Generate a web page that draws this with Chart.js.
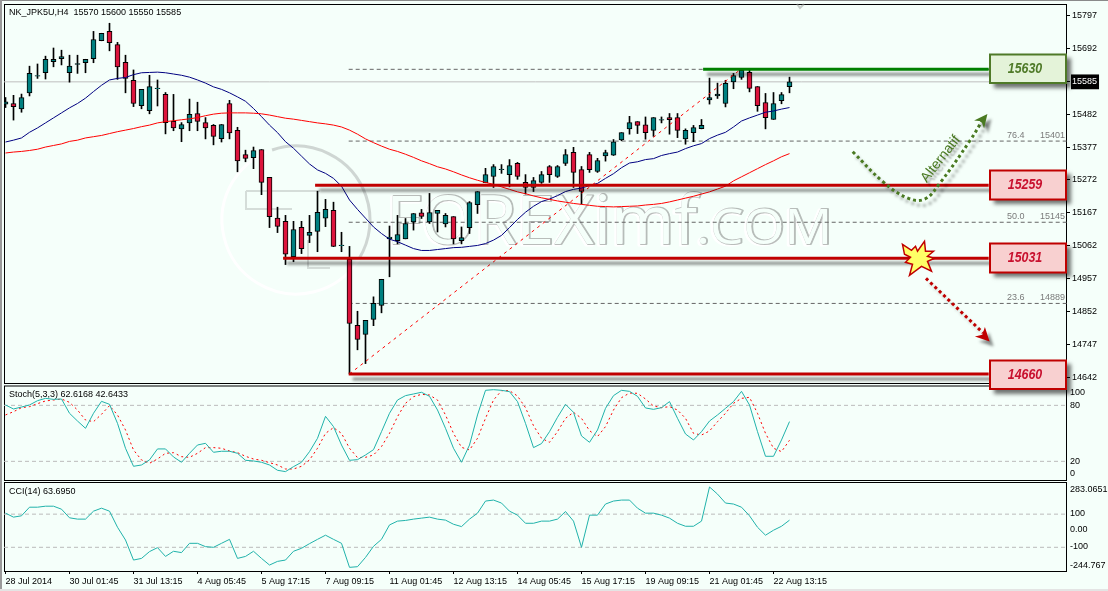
<!DOCTYPE html>
<html><head><meta charset="utf-8">
<script src="https://cdn.jsdelivr.net/npm/chart.js@4/dist/chart.umd.min.js"></script>
<style>
html,body{margin:0;padding:0;background:#F5FFFA;}
#wrap{position:relative;width:1108px;height:591px;overflow:hidden;background:#F5FFFA;}
canvas{position:absolute;left:0;}
#edgeT{position:absolute;left:0;top:0;width:1108px;height:1px;background:#8a8a8a;z-index:5}
#edgeL{position:absolute;left:0;top:0;width:2px;height:591px;background:#9a9a9a;z-index:5}
#edgeB{position:absolute;left:0;top:589px;width:1108px;height:2px;background:#e4e4e4;z-index:5}
</style></head><body>
<div id="wrap">
<div id="edgeT"></div><div id="edgeL"></div><div id="edgeB"></div>
<canvas id="cci" width="1108" height="113" style="top:478px;z-index:1"></canvas>
<canvas id="stoch" width="1108" height="105" style="top:380px;z-index:1"></canvas>
<canvas id="main" width="1108" height="400" style="top:0;z-index:2"></canvas>
</div>
<script>
const opens=[15514,15516,15499,15550,15603,15614,15649,15659,15614,15641,15646,15659,15716,15746,15704,15647,15590,15509,15493,15563,15545,15459,15435,15454,15484,15455,15446,15404,15516,15430,15353,15343,15369,15280,15150,15140,15027,15121,15095,15108,15150,15175,15062,15019,14808,14779,14827,14872,15084,15078,15084,15138,15167,15138,15165,15132,15155,15078,15120,15193,15263,15283,15305,15289,15325,15264,15248,15264,15315,15283,15325,15360,15305,15353,15299,15349,15351,15400,15435,15458,15448,15430,15463,15471,15471,15403,15423,15436,15527,15540,15516,15585,15599,15615,15570,15519,15465,15525,15570];
const highs=[15535,15542,15546,15635,15642,15667,15693,15686,15670,15670,15657,15746,15740,15772,15711,15670,15623,15561,15606,15591,15551,15545,15455,15530,15520,15471,15449,15449,15526,15440,15367,15377,15369,15280,15185,15159,15140,15140,15159,15236,15210,15201,15105,15060,14853,14824,14899,14955,15125,15159,15149,15165,15178,15229,15175,15165,15155,15122,15203,15235,15309,15321,15321,15337,15328,15289,15280,15299,15318,15318,15369,15376,15315,15360,15341,15367,15401,15423,15475,15458,15473,15471,15473,15484,15484,15435,15446,15465,15597,15581,15590,15612,15627,15622,15570,15548,15551,15551,15600];
const lows=[15503,15463,15488,15540,15596,15594,15633,15639,15584,15612,15614,15646,15716,15684,15593,15550,15506,15499,15483,15508,15419,15429,15394,15429,15429,15403,15384,15393,15403,15298,15330,15308,15225,15120,15104,15002,15011,15037,15072,15043,15123,15059,15043,14653,14730,14686,14807,14848,14963,15068,15084,15112,15149,15133,15106,15122,15068,15068,15101,15165,15263,15248,15293,15250,15274,15227,15235,15261,15264,15280,15318,15248,15195,15296,15296,15332,15350,15397,15418,15420,15402,15411,15454,15418,15407,15386,15394,15435,15514,15532,15505,15563,15593,15553,15491,15435,15465,15515,15550];
const closes=[15521,15506,15535,15612,15605,15657,15657,15666,15635,15643,15657,15720,15740,15710,15633,15596,15516,15561,15570,15565,15455,15438,15449,15481,15459,15438,15411,15449,15422,15333,15341,15366,15264,15155,15124,15035,15114,15053,15105,15169,15178,15060,15064,14814,14763,14824,14878,14955,15090,15098,15133,15165,15156,15168,15175,15159,15084,15088,15200,15235,15289,15315,15307,15318,15283,15248,15270,15289,15289,15315,15353,15296,15235,15305,15334,15359,15394,15423,15455,15446,15423,15471,15465,15464,15430,15430,15439,15446,15535,15546,15580,15605,15622,15564,15509,15471,15516,15544,15585];
const maBlue=[15393,15399,15406,15424,15438,15454,15470,15486,15502,15516,15533,15554,15574,15591,15596,15599,15608,15614,15615,15616,15614,15610,15606,15600,15591,15581,15569,15561,15550,15537,15523,15500,15474,15447,15423,15394,15373,15348,15323,15304,15293,15277,15252,15208,15178,15150,15122,15101,15083,15075,15064,15053,15047,15047,15050,15053,15056,15057,15060,15063,15069,15080,15095,15120,15146,15169,15188,15203,15211,15222,15235,15242,15246,15254,15261,15277,15292,15311,15326,15330,15337,15340,15350,15356,15361,15372,15381,15388,15404,15415,15424,15441,15460,15470,15479,15488,15492,15498,15503];
const maRed=[15358,15361,15363,15366,15370,15377,15382,15387,15395,15399,15406,15410,15414,15420,15426,15431,15436,15442,15447,15454,15458,15461,15464,15467,15471,15477,15482,15485,15486,15486,15486,15485,15483,15479,15474,15469,15466,15462,15458,15454,15451,15447,15441,15431,15418,15403,15391,15380,15370,15363,15354,15344,15333,15324,15314,15307,15298,15288,15279,15271,15264,15258,15250,15242,15234,15228,15221,15215,15210,15205,15201,15197,15194,15191,15188,15187,15186,15187,15188,15189,15192,15194,15197,15202,15208,15214,15220,15227,15234,15243,15252,15269,15282,15295,15308,15321,15333,15346,15356];
const stochMain=[80.4,76.1,78.2,80.4,85,87.5,86.4,86.8,71.5,63.2,55.4,71.5,84.3,81.1,60.7,34,14.7,16.1,21.5,33.3,33.3,24.7,19,28.6,37.5,39.3,29.7,30.8,30.8,28.6,21.1,20.4,19,16.1,10.4,9,14.3,19,30.4,44.7,68.2,57.2,37.5,21.1,21.8,26.8,32.5,51.8,71.5,85.7,90.4,92.2,94,89.7,75,55.4,34,19,37.5,69.7,96.1,96.8,96.1,94.7,84,60.7,34.7,39,51.8,67.2,81.1,72.5,47.2,40.4,53.6,76.8,90.4,96.1,95,89.7,77.2,75.7,77.5,84,66.1,49.3,42.9,51.8,63.2,69.7,76.8,84,95,80.4,51.8,25.4,25.4,42.9,62.6];
const stochSignal=[69.7,73.2,77.5,78.6,81.8,84.7,85.7,86.8,83.2,75,64.3,62.5,70.4,79.7,69.7,53.6,32.2,21.5,17.9,22.5,28.6,29.3,25,24.3,28.6,34.7,34.7,34,31.1,29.3,25.4,22.5,21.1,18.6,16.1,11.8,11.8,14.7,21.5,34,50,56.1,50,34,24,24.3,26.8,35.8,50,67.9,82.2,89.3,91.8,91.1,85.7,69.7,50,35,32.2,44.7,66.1,85.7,95.7,95.7,90,77.5,58.2,44.7,40.4,51.8,66.1,72.5,66.1,52.9,46.5,57.2,75,88.2,93.2,92.9,86.8,79.3,77.5,78.6,75,66.1,50,48.2,52.5,62.5,71.5,82.2,87.5,88.6,71.5,50,34,30.4,42.6];
const cciValues=[106,82,90,142,142,148,148,130,78,70,70,118,136,118,21,-56,-177,-167,-126,-102,-155,-124,-132,-76,-76,-96,-100,-76,-52,-167,-155,-124,-167,-207,-185,-177,-124,-106,-78,-52,-27,-52,-76,-221,-217,-161,-94,-52,35,58,62,70,76,82,70,64,39,25,70,106,179,185,167,118,94,45,45,58,58,70,116,58,-100,94,94,161,179,185,185,136,106,106,94,76,45,27,27,58,264,221,167,161,142,90,21,-27,3,27,63.7];
const priceTicks=[15797,15692,15585,15482,15377,15272,15167,15062,14957,14852,14747,14642];
const stochTickPos=[94,80,20,6.8];
const stochTickLabels=['100','80','20','0'];
const cciTickPos=[249,106,9,-94,-207];
const cciTickLabels=['283.0651','100','0.00','-100','-244.767'];
const timeLabels=['28 Jul 2014','30 Jul 01:45','31 Jul 13:15','4 Aug 05:45','5 Aug 17:15','7 Aug 09:15','11 Aug 01:45','12 Aug 13:15','14 Aug 05:45','15 Aug 17:15','19 Aug 09:15','21 Aug 01:45','22 Aug 13:15'];
const levelLabels=['15630','15259','15031','14660'];
const levelValues=[15625,15255,15022,14653];
const levelStarts=[87.2,38.7,34.7,42.9];
const fibPercents=['76.4','50.0','23.6'];
const fibNames=['15401','15145','14889'];
const fibValues=[15396,15137,14878];
const fibTop=15625;
const alternatifPath=[[105.9,15362],[109.7,15266],[112.8,15214],[114.9,15211],[116.8,15262],[120.6,15399],[122.3,15470]];
const breakdownPath=[[115.06,14958],[122.2,14784]];
const bidPrice=15585;

const FF="'Liberation Sans'";
const BG='#F5FFFA';
Chart.defaults.font.family=FF;Chart.defaults.font.size=9;Chart.defaults.color='#000';
const XMIN=-0.1875,XMAX=132.6875,LEVEL_END=122.9;
const idx=opens.map((_,i)=>i);
const series=a=>a.map((v,i)=>({x:i,y:v}));
const hline=(y,a,b)=>[{x:a,y},{x:b,y}];
const lineDs=(data,color,extra)=>Object.assign({type:'line',data,borderColor:color,borderWidth:1,pointRadius:0,tension:0,fill:false},extra||{});
const baseOpts=(pad)=>({responsive:false,animation:false,devicePixelRatio:1,events:[],layout:{padding:pad},
 plugins:{legend:{display:false},tooltip:{enabled:false}}});
const noPad=s=>{s.paddingTop=0;s.paddingBottom=0;s.paddingLeft=0;s.paddingRight=0;};
const xScale=(show)=>({type:'linear',min:XMIN,max:XMAX,offset:false,display:show,
 grid:{display:show,drawOnChartArea:false,tickLength:3,tickColor:'#000',offset:false},border:{display:false},
 afterBuildTicks:s=>{s.ticks=timeLabels.map((_,i)=>({value:i*8}));},
 afterFit:s=>{noPad(s);if(show)s.height=20;},
 ticks:{autoSkip:false,maxRotation:0,align:'start',padding:2,callback:v=>timeLabels[v/8]}});

function frame(chart,top,bottom){const c=chart.ctx;c.save();c.strokeStyle='#000';c.lineWidth=1;c.strokeRect(4.5,top+.5,1062,bottom-top);c.restore();}
function caption(chart,txt,y){const c=chart.ctx;c.save();c.font='9px '+FF;c.fillStyle='#000';c.textBaseline='middle';c.fillText(txt,9,y);c.restore();}

const shadowPlugin={id:'shadow',
 beforeDatasetDraw(ch,a){const d=ch.data.datasets[a.index];if(d.shadow){const c=ch.ctx;c.save();c.shadowColor=d.shadow;c.shadowOffsetX=4;c.shadowOffsetY=5;c.shadowBlur=3;}},
 afterDatasetDraw(ch,a){const d=ch.data.datasets[a.index];if(d.shadow)ch.ctx.restore();}};

function watermark(c){
 c.save();
 c.lineWidth=3;
 c.strokeStyle='rgba(175,180,178,.55)';c.beginPath();c.arc(296,220,74,-1.9,0.55);c.stroke();
 c.strokeStyle='#ffffff';c.beginPath();c.arc(296,220,74,0.55,4.3);c.stroke();
 c.lineWidth=2;c.strokeStyle='rgba(165,170,167,.4)';c.beginPath();
 c.moveTo(246,191);c.lineTo(320,191);c.moveTo(246,191);c.lineTo(246,209);c.lineTo(292,209);c.moveTo(308,240);c.lineTo(308,268);c.lineTo(330,268);c.stroke();
 const draw=(t,x,w,size)=>{c.save();c.font=size+"px 'Open Sans'";const k=w/c.measureText(t).width;c.translate(x,244);c.scale(k,1);c.lineJoin='round';
  c.lineWidth=3;c.strokeStyle='#ffffff';c.strokeText(t,-1,1);
  c.lineWidth=2;c.strokeStyle='rgba(140,145,142,.6)';c.strokeText(t,1,0);
  c.fillStyle=BG;c.fillText(t,0,0);c.restore();};
 draw('FOREXimf',386,311,68);draw('.COM',696,136,50);
 c.strokeStyle='rgba(150,155,152,.5)';c.lineWidth=2;c.beginPath();c.moveTo(797,4);c.lineTo(800,8);c.lineTo(804,4);c.stroke();
 c.restore();
}
function levelBox(c,t,y1,y2,fill,border,color){
 c.save();c.shadowColor='rgba(0,0,0,.55)';c.shadowOffsetX=4;c.shadowOffsetY=4;c.shadowBlur=4;
 c.fillStyle=fill;c.fillRect(989.5,y1,77,y2-y1);c.restore();
 c.save();c.strokeStyle=border;c.lineWidth=2;c.strokeRect(990,y1+.5,76,y2-y1-1);
 c.translate(1025,(y1+y2)/2);c.scale(.8,1);c.font="italic bold 15.5px "+FF;c.fillStyle=color;c.textAlign='center';c.textBaseline='middle';c.fillText(t,0,0);c.restore();
}
function head(c,x,y,pts,col){c.save();c.shadowColor='rgba(0,0,0,.45)';c.shadowOffsetX=4;c.shadowOffsetY=5;c.shadowBlur=3;
 c.fillStyle=col;c.beginPath();c.moveTo(x,y);pts.forEach(p=>c.lineTo(x+p[0],y+p[1]));c.closePath();c.fill();c.restore();}
const burstShape=[[-15,-14],[-6,-8],[-2,-12],[0,-7],[7,-17],[8,-7],[16,-7],[10,-2],[17,0],[10,3],[14,13],[4,8],[-8,17],[-5,6],[-12,4],[-7,-1],[-13,-4]];

const overlay={id:'overlay',
 beforeDatasetsDraw(ch){watermark(ch.ctx);},
 afterDatasetsDraw(ch){const c=ch.ctx,xs=ch.scales.x,ys=ch.scales.y;
  c.save();c.font='9px '+FF;c.fillStyle='#7a7a7a';c.textBaseline='middle';
  fibValues.forEach((v,i)=>{const y=ys.getPixelForValue(v)-5.5;c.fillText(fibPercents[i],1007,y);c.fillText(fibNames[i],1040,y);});c.restore();
  const ga=alternatifPath[alternatifPath.length-1];
  head(c,xs.getPixelForValue(ga[0])+3.5,ys.getPixelForValue(ga[1])-4,[[-13.3,6.7],[-6,7.3],[-3.3,14.7]],'#4A7A22');
  const ra=breakdownPath[1];
  head(c,xs.getPixelForValue(ra[0])+6.5,ys.getPixelForValue(ra[1])+8.5,[[-14.7,-5],[-7.3,-6.7],[-4.7,-14.3]],'#C00000');
  c.save();c.shadowColor='rgba(0,0,0,.4)';c.shadowOffsetX=3;c.shadowOffsetY=3;c.shadowBlur=2;c.translate(940.7,159);c.rotate(-52*Math.PI/180);
  c.font='14px '+FF;c.fillStyle='#4A7A22';c.textAlign='center';c.textBaseline='middle';c.fillText('Alternatif',0,0);c.restore();
  const bx=xs.getPixelForValue(114),by=ys.getPixelForValue(levelValues[2]);
  c.save();c.fillStyle='#FFFF66';c.strokeStyle='#C00000';c.lineWidth=1.5;c.beginPath();burstShape.forEach((p,i)=>i?c.lineTo(bx+p[0],by+p[1]):c.moveTo(bx+p[0],by+p[1]));c.closePath();c.fill();c.stroke();c.restore();
  levelBox(c,levelLabels[0],54,83.5,'#E4F3D9','#4F7A28','#4F7A28');
  levelBox(c,levelLabels[1],170,200,'#F8D0D0','#C00000','#C8102E');
  levelBox(c,levelLabels[2],243,273,'#F8D0D0','#C00000','#C8102E');
  levelBox(c,levelLabels[3],360,389.5,'#F8D0D0','#C00000','#C8102E');
 }
};
const mainFrame={id:'mainFrame',beforeDatasetsDraw(ch){frame(ch,4,383);caption(ch,'NK_JPK5U,H4  15570 15600 15550 15585',12.5);}};

new Chart(document.getElementById('main'),{type:'bar',
 data:{datasets:[
  {type:'bar',order:20,grouped:false,barThickness:1,backgroundColor:'#000',borderWidth:0,data:idx.map(i=>({x:i,y:[lows[i],highs[i]]}))},
  {type:'bar',order:19,grouped:false,barThickness:5,borderColor:'#000',borderWidth:1,borderSkipped:false,
   backgroundColor:idx.map(i=>closes[i]>=opens[i]?'#008080':'#DC143C'),data:idx.map(i=>({x:i,y:[opens[i],closes[i]]}))},
  lineDs(hline(bidPrice,XMIN,XMAX),'#BEBEBE',{order:25}),
  lineDs(hline(fibTop,42.9,XMAX),'#666',{borderDash:[4,3],order:24}),
  lineDs(hline(fibValues[0],42.9,XMAX),'#666',{borderDash:[4,3],order:24}),
  lineDs(hline(fibValues[1],42.9,XMAX),'#666',{borderDash:[4,3],order:24}),
  lineDs(hline(fibValues[2],42.9,XMAX),'#666',{borderDash:[4,3],order:24}),
  lineDs([{x:43,y:14653},{x:92,y:15627}],'#FF0000',{borderDash:[3,4],order:10}),
  lineDs(series(maBlue),'#000080',{order:9}),
  lineDs(series(maRed),'#FF0000',{order:8}),
  lineDs(hline(levelValues[0],levelStarts[0],LEVEL_END),'#008000',{borderWidth:3,order:5,shadow:'rgba(0,0,0,.45)'}),
  lineDs(hline(levelValues[1],levelStarts[1],LEVEL_END),'#C00000',{borderWidth:3,order:5,shadow:'rgba(0,0,0,.45)'}),
  lineDs(hline(levelValues[2],levelStarts[2],LEVEL_END),'#C00000',{borderWidth:3,order:5,shadow:'rgba(0,0,0,.45)'}),
  lineDs(hline(levelValues[3],levelStarts[3],LEVEL_END),'#C00000',{borderWidth:3,order:5,shadow:'rgba(0,0,0,.45)'}),
  lineDs(alternatifPath.map(p=>({x:p[0],y:p[1]})),'#4A7A22',{borderWidth:3,borderDash:[3,3],tension:.4,order:3,shadow:'rgba(0,0,0,.35)'}),
  lineDs(breakdownPath.map(p=>({x:p[0],y:p[1]})),'#C00000',{borderWidth:3,borderDash:[3,3],order:3,shadow:'rgba(0,0,0,.2)'})
 ]},
 options:Object.assign(baseOpts({left:4,top:4,bottom:16,right:0}),{scales:{
  x:xScale(false),
  y:{position:'right',min:14620.9,max:15833.4,
   grid:{drawOnChartArea:false,tickLength:3,tickColor:'#000'},border:{display:false},
   afterFit:s=>{noPad(s);s.width=41;},
   afterBuildTicks:s=>{s.ticks=priceTicks.map(v=>({value:v}));},
   ticks:{autoSkip:false,padding:2,callback:v=>String(v),
    color:c=>c.tick&&c.tick.value===bidPrice?'#fff':'#000',
    showLabelBackdrop:c=>!!(c.tick&&c.tick.value===bidPrice),backdropColor:'#000',backdropPadding:{left:1,right:2,top:2,bottom:2}}}
 }}),
 plugins:[shadowPlugin,mainFrame,overlay]});

new Chart(document.getElementById('stoch'),{type:'line',
 data:{datasets:[
  lineDs(hline(80,XMIN,XMAX),'#BBBBBB',{borderDash:[4,3],order:5}),
  lineDs(hline(20,XMIN,XMAX),'#BBBBBB',{borderDash:[4,3],order:5}),
  lineDs(series(stochSignal),'#FF0000',{borderDash:[2,3],order:2}),
  lineDs(series(stochMain),'#20B2AA',{order:1})
 ]},
 options:Object.assign(baseOpts({left:4,top:5,bottom:5,right:0}),{scales:{
  x:xScale(false),
  y:{position:'right',min:0,max:101.8,grid:{display:false,drawTicks:false,tickLength:0},border:{display:false},
   afterFit:s=>{noPad(s);s.width=41;},
   afterBuildTicks:s=>{s.ticks=stochTickPos.map(v=>({value:v}));},
   ticks:{autoSkip:false,padding:3,callback:v=>stochTickLabels[stochTickPos.indexOf(v)]}}
 }}),
 plugins:[{id:'f',beforeDatasetsDraw(ch){frame(ch,5.5,100);caption(ch,'Stoch(5,3,3) 62.6168 42.6433',14.5);}}]});

new Chart(document.getElementById('cci'),{type:'line',
 data:{datasets:[
  lineDs(hline(100,XMIN,XMAX),'#BBBBBB',{borderDash:[4,3],order:5}),
  lineDs(hline(-100,XMIN,XMAX),'#BBBBBB',{borderDash:[4,3],order:5}),
  lineDs(series(cciValues),'#20B2AA',{order:1})
 ]},
 options:Object.assign(baseOpts({left:4,top:4,bottom:0,right:0}),{scales:{
  x:xScale(true),
  y:{position:'right',min:-243,max:294,grid:{display:false,drawTicks:false,tickLength:0},border:{display:false},
   afterFit:s=>{noPad(s);s.width=41;},
   afterBuildTicks:s=>{s.ticks=cciTickPos.map(v=>({value:v}));},
   ticks:{autoSkip:false,padding:3,callback:v=>cciTickLabels[cciTickPos.indexOf(v)]}}
 }}),
 plugins:[{id:'f',beforeDatasetsDraw(ch){frame(ch,4,93);caption(ch,'CCI(14) 63.6950',13.5);}}]});
</script>
</body></html>
